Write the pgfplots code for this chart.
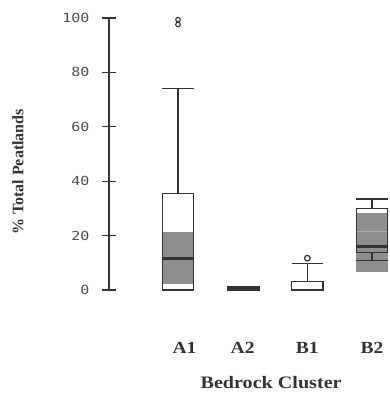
\documentclass[border=0pt]{standalone}
\usepackage{pgfplots}
\pgfplotsset{compat=1.18}
\usepgfplotslibrary{statistics}
\usepackage{fontspec}
\setmainfont{Liberation Serif}
\newfontfamily\tickfont{DejaVu Sans Mono}
\definecolor{ink}{HTML}{333333}
\definecolor{ticktext}{HTML}{505050}
\definecolor{shade}{HTML}{8E8E8E}
\definecolor{meanline}{HTML}{D89A8E}
\begin{document}
\begin{tikzpicture}
\useasboundingbox (-109pt,-103pt) rectangle (280pt,290pt);
\begin{axis}[
  at={(0pt,0pt)}, anchor=south west,
  scale only axis, width=280pt, height=272pt,
  xmin=-1.067, xmax=3.263, ymin=0, ymax=100,
  clip=false,
  axis line style={draw=none},
  xtick={0.1,1,2,3},
  xticklabels={\scalebox{1.15}[1]{A1},\scalebox{1.15}[1]{A2},\scalebox{1.15}[1]{B1},\scalebox{1.15}[1]{B2}},
  xtick style={draw=none},
  xtick pos=bottom,
  xticklabel style={font=\bfseries\fontsize{17}{17}\selectfont, text=ink, yshift=-42pt},
  ytick={0,20,40,60,80,100},
  ytick pos=left,
  yticklabels={\scalebox{1.2}[1]{0},\scalebox{1.2}[1]{20},\scalebox{1.2}[1]{40},\scalebox{1.2}[1]{60},\scalebox{1.2}[1]{80},\scalebox{1.2}[1]{100}},
  yticklabel style={font=\tickfont\fontsize{12.5}{12.5}\selectfont, text=ticktext, anchor=east, xshift=-9pt},
  ytick style={draw=ink, line width=1.3pt},
  tick align=center, major tick length=14pt,
  xlabel={\scalebox{1.15}[1]{Bedrock Cluster}},
  xlabel style={at={(axis description cs:0.579,-0.342)}, anchor=center, font=\bfseries\fontsize{17.5}{17.5}\selectfont, text=ink},
  ylabel={\% Total Peatlands},
  ylabel style={at={(axis description cs:-0.325,0.434)}, anchor=center, font=\bfseries\fontsize{16}{16}\selectfont, text=ink},
  boxplot/draw direction=y,
  boxplot/box extend=0.48,
  boxplot/whisker extend=0.48,
  boxplot/every median/.style={line width=2.6pt},
]
\draw[ink, line width=1.3pt] (rel axis cs:0,0) -- (rel axis cs:0,1);
% shaded confidence regions
\addplot[fill=shade, draw=none] coordinates {(-0.24,2.2) (0.24,2.2) (0.24,21.4) (-0.24,21.4)} -- cycle;
\addplot[fill=shade, draw=none] coordinates {(2.76,6.7) (3.25,6.7) (3.25,28.2) (2.76,28.2)} -- cycle;
% A1
\addplot[ink, line width=1.3pt, boxplot prepared={lower whisker=0, lower quartile=0, median=11.5, upper quartile=35.5, upper whisker=74, draw position=0}] coordinates {};
\addplot[ink, only marks, mark=o, mark size=2.3pt, mark options={line width=1.1pt}] coordinates {(0,97.6) (0,99.4)};
% A2
\addplot[fill=ink, draw=ink, line width=0.8pt] coordinates {(0.758,-0.3) (1.253,-0.3) (1.253,1.5) (0.758,1.5)} -- cycle;
% B1
\addplot[ink, line width=1.3pt, boxplot prepared={lower whisker=0, lower quartile=0, median=0, upper quartile=3, upper whisker=9.8, draw position=2}] coordinates {};
\addplot[ink, only marks, mark=o, mark size=2.8pt, mark options={line width=1.2pt}] coordinates {(2,11.7)};
% B2
\addplot[meanline, line width=1.2pt] coordinates {(2.76,21.5) (3.24,21.5)};
\addplot[ink, line width=1.3pt, boxplot prepared={lower whisker=10.8, lower quartile=13.9, median=16, upper quartile=30, upper whisker=33.5, draw position=3}] coordinates {};
\end{axis}
\end{tikzpicture}
\end{document}
